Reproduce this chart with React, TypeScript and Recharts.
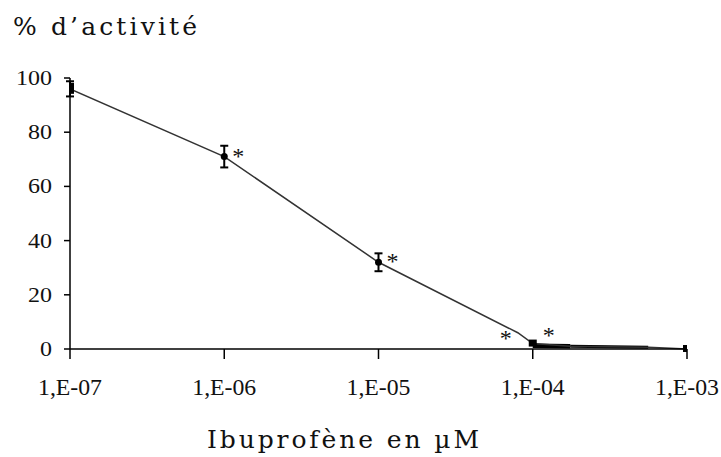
import React from "react";
import { LineChart, Line, XAxis, YAxis, ErrorBar, LabelList } from "recharts";

const concentrations = [1e-7, 1e-6, 1e-5, 8e-5, 1e-4, 1.75e-4, 5.6e-4, 1e-3];
const activity = [96, 71, 32, 6, 2, 1, 0.6, 0];
const errors: (number | null)[] = [2.8, 4, 3.3, null, null, null, null, null];
const stars = ["", "*", "*", "*", "*", "", "", ""];
const markers = [true, true, true, false, true, false, false, true];
const thickSegment: (number | null)[] = [null, null, null, null, 1.2, 1, null, null];
const mediumSegment: (number | null)[] = [null, null, null, null, null, 1, 0.6, null];

const xTicks = [1e-7, 1e-6, 1e-5, 1e-4, 1e-3];
const xTickLabels = ["1,E-07", "1,E-06", "1,E-05", "1,E-04", "1,E-03"];
const yTicks = [0, 20, 40, 60, 80, 100];
const yTitle = "% d’activité";
const xTitle = "Ibuprofène en µM";

const data = concentrations.map((c, i) => ({
  c,
  a: activity[i],
  err: errors[i],
  star: stars[i],
  mark: markers[i],
  thick: thickSegment[i],
  medium: mediumSegment[i],
}));

const SERIF = "'Liberation Serif', 'Times New Roman', Times, serif";
const SLAB = "'DejaVu Serif', 'Bitstream Vera Serif', serif";

const starOffsets: Record<number, [number, number]> = {
  1: [14, 7],
  2: [14, 7],
  3: [-12, 13],
  4: [16, -1],
};

const renderStar = (props: any) => {
  const { x, y, value, index } = props;
  if (!value) return null;
  const off = starOffsets[index] || [12, 0];
  return (
    <text
      x={x + off[0]}
      y={y + off[1]}
      textAnchor="middle"
      fontFamily={SERIF}
      style={{ fontFamily: SERIF, fontSize: 24 }}
      fill="#111"
    >
      {value}
    </text>
  );
};

const renderDot = (props: any) => {
  const { cx, cy, payload, index } = props;
  if (!payload || !payload.mark) return <g key={`d${index}`} />;
  if (index === 0) {
    return <rect key={`d${index}`} x={cx - 4} y={cy - 6} width={8} height={11} fill="#000" />;
  }
  if (index === 4 || index === 7) {
    return <rect key={`d${index}`} x={cx - 4} y={cy - 4} width={8} height={7} fill="#000" />;
  }
  return <circle key={`d${index}`} cx={cx} cy={cy} r={3.5} fill="#000" />;
};

const XTick = (props: any) => {
  const { x, y, payload } = props;
  const i = xTicks.indexOf(payload.value);
  return (
    <text
      x={x}
      y={y + 36}
      textAnchor="middle"
      fontFamily={SERIF}
      style={{ fontFamily: SERIF, fontSize: 23 }}
      fill="#111"
      textLength={64}
      lengthAdjust="spacingAndGlyphs"
    >
      {i >= 0 ? xTickLabels[i] : ""}
    </text>
  );
};

const YTick = (props: any) => {
  const { x, y, payload } = props;
  return (
    <text
      x={x}
      y={y}
      dy={7}
      textAnchor="end"
      fontFamily={SERIF}
      style={{ fontFamily: SERIF, fontSize: 22 }}
      fill="#111"
      textLength={String(payload.value).length * 12}
      lengthAdjust="spacingAndGlyphs"
    >
      {payload.value}
    </text>
  );
};

export default function App() {
  return (
    <div style={{ position: "absolute", left: 0, top: 0, width: 721, height: 457, background: "#fff" }}>
      <svg width={721} height={457} style={{ position: "absolute", left: 0, top: 0 }}>
        <text
          x={13}
          y={35}
          fontFamily={SLAB}
          style={{ fontFamily: SLAB, fontSize: 25 }}
          fill="#111"
          textLength={184}
          lengthAdjust="spacing"
        >
          {yTitle}
        </text>
        <text
          x={207}
          y={448}
          fontFamily={SLAB}
          style={{ fontFamily: SLAB, fontSize: 25 }}
          fill="#111"
          textLength={272}
          lengthAdjust="spacing"
        >
          {xTitle}
        </text>
      </svg>
      <div style={{ position: "absolute", left: 0, top: 0 }}>
        <LineChart
          width={721}
          height={457}
          data={data}
          margin={{ top: 78, right: 34, left: 0, bottom: 0 }}
        >
          <XAxis
            dataKey="c"
            type="number"
            scale="log"
            domain={[1e-7, 1e-3]}
            ticks={xTicks}
            allowDataOverflow
            height={108}
            tickSize={10}
            tickMargin={0}
            tick={<XTick />}
            axisLine={{ stroke: "#000", strokeWidth: 1.5 }}
            tickLine={{ stroke: "#000", strokeWidth: 1.5 }}
            interval={0}
          />
          <YAxis
            type="number"
            domain={[0, 100]}
            ticks={yTicks}
            width={70}
            tickSize={6}
            tickMargin={12}
            tick={<YTick />}
            axisLine={{ stroke: "#000", strokeWidth: 1.5 }}
            tickLine={{ stroke: "#000", strokeWidth: 1.5 }}
            interval={0}
          />
          <Line
            dataKey="thick"
            stroke="#000"
            strokeWidth={4.5}
            dot={false}
            isAnimationActive={false}
            connectNulls={false}
          />
          <Line
            dataKey="medium"
            stroke="#000"
            strokeWidth={3}
            dot={false}
            isAnimationActive={false}
            connectNulls={false}
          />
          <Line
            dataKey="a"
            stroke="#333"
            strokeWidth={1.5}
            dot={renderDot}
            activeDot={false}
            isAnimationActive={false}
          >
            <ErrorBar dataKey="err" width={4} direction="y" stroke="#000" strokeWidth={2} />
            <LabelList dataKey="star" content={renderStar} />
          </Line>
        </LineChart>
      </div>
    </div>
  );
}
